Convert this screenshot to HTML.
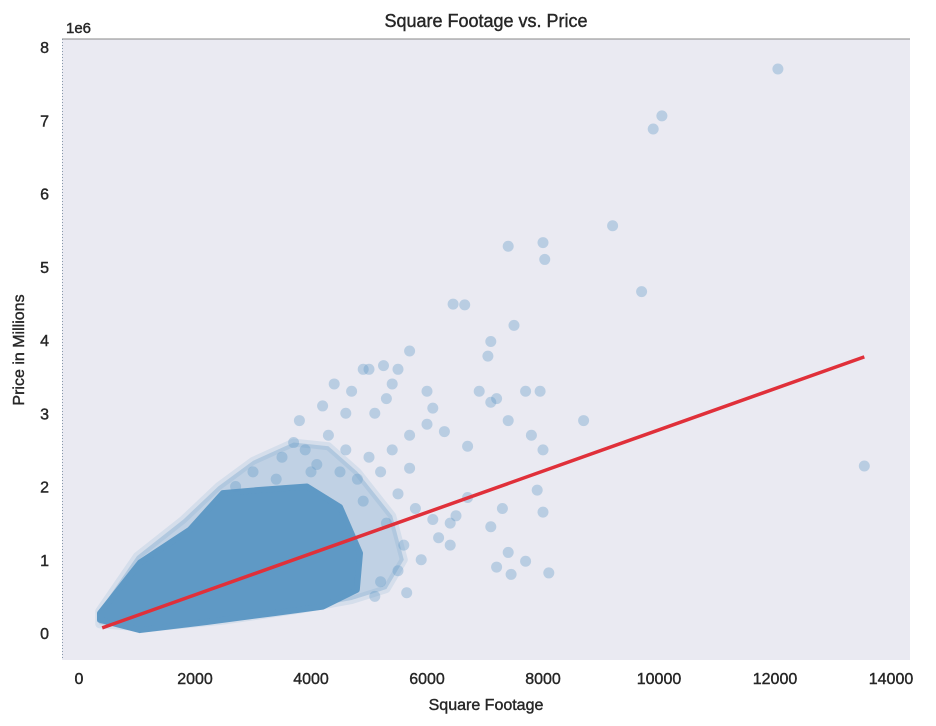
<!DOCTYPE html>
<html><head><meta charset="utf-8"><style>
body{margin:0;background:#fff;}
svg{display:block;font-family:"Liberation Sans",sans-serif;}
</style></head><body>
<svg width="936" height="726">
<text x="486" y="27" text-anchor="middle" font-size="18" fill="#262626" stroke="#262626" stroke-width="0.4">Square Footage vs. Price</text>
<rect x="62" y="39" width="848" height="621" fill="#eaeaf2"/>
<line x1="62" y1="39" x2="910" y2="39" stroke="#888" stroke-width="1"/>
<line x1="62.5" y1="39" x2="62.5" y2="660" stroke="#8898aa" stroke-dasharray="1,2"/>
<g id="marks"></g>
<g id="axes"></g>
<text x="66" y="33" font-size="15" fill="#262626" stroke="#262626" stroke-width="0.4">1e6</text>
<text x="486" y="710" text-anchor="middle" font-size="16" fill="#262626" stroke="#262626" stroke-width="0.4">Square Footage</text>
<text transform="translate(24,350) rotate(-90)" text-anchor="middle" font-size="16" fill="#262626" stroke="#262626" stroke-width="0.4">Price in Millions</text>
</svg>
<script>
const xTicks=[0,2000,4000,6000,8000,10000,12000,14000];
const yTicks=[0,1,2,3,4,5,6,7,8];
const coreSqft=[362,1050,1910,2480,3070,3930,4500,4845,4790,4200,3350,2200,1050,362];
const corePrice=[0.27,0.96,1.41,1.91,1.95,2.0,1.72,1.09,0.59,0.36,0.27,0.15,0.04,0.18];
const haloSqft=[350,1000,1800,2400,3000,3700,4300,4800,5400,5600,5300,4700,3800,2500,1200,350];
const haloPrice=[0.3,1.05,1.55,2.0,2.35,2.6,2.55,2.2,1.6,1.0,0.6,0.45,0.32,0.17,0.07,0.12];
const ptSqft=[12050,10050,9900,9200,8000,8030,7400,9700,6450,6650,7500,7100,7050,5700,13540,8700,7950,7700,7200,7100,6900,6000,6100,6000,6300,7400,6700,7800,8000,7900,8000,7300,7100,6700,6500,6200,6400,7400,7700,8100,7200,7450,6400,5600,5900,5500,5200,5650,5100,5400,5500,5250,5000,4900,5300,5100,4700,4400,4200,4600,5700,5700,5400,5000,5200,4800,4500,4100,3700,3900,4300,3500,3800,5500,5800,6100,5300,4900,4600,3400,3000,2700,4000];
const ptPrice=[7.7,7.06,6.88,5.56,5.33,5.1,5.28,4.66,4.49,4.48,4.2,3.98,3.78,3.85,2.28,2.9,3.3,3.3,3.2,3.15,3.3,3.3,3.07,2.85,2.75,2.9,2.55,2.7,2.5,1.95,1.65,1.7,1.45,1.85,1.6,1.3,1.2,1.1,0.98,0.82,0.9,0.8,1.5,1.2,1.0,0.85,0.7,0.55,0.5,3.4,3.6,3.65,3.6,3.6,3.2,3.0,3.3,3.4,3.1,3.0,2.7,2.25,2.5,2.4,2.2,2.1,2.2,2.3,2.6,2.5,2.7,2.4,2.9,1.9,1.7,1.55,1.5,1.8,2.5,2.1,2.2,2.0,2.2];
const fitSqft=[400,13540];
const fitPrice=[0.07,3.77];
const X=s=>79+s*812/14000;
const Y=v=>633-v*73.25;
const NS="http://www.w3.org/2000/svg";
const marks=document.getElementById('marks'),axes=document.getElementById('axes');
function mk(t,a,p){const e=document.createElementNS(NS,t);for(const k in a)e.setAttribute(k,a[k]);p.appendChild(e);return e;}
let hp=mk('polygon',{points:haloSqft.map((s,i)=>X(s)+','+Y(haloPrice[i])).join(' '),fill:'#5f99c5','fill-opacity':0.3,stroke:'#5f99c5','stroke-opacity':0.15,'stroke-width':8,'stroke-linejoin':'round'},marks);


let cp=mk('polygon',{points:coreSqft.map((s,i)=>X(s)+','+Y(corePrice[i])).join(' '),fill:'#5f99c5',stroke:'#5f99c5','stroke-width':6,'stroke-linejoin':'round'},marks);


ptSqft.forEach((s,i)=>{
 const c=mk('circle',{cx:X(s),cy:Y(ptPrice[i]),r:5.5,fill:'#5f99c5','fill-opacity':0.35},marks);
 
 
});
const fl=mk('line',{x1:X(fitSqft[0]),y1:Y(fitPrice[0]),x2:X(fitSqft[1]),y2:Y(fitPrice[1]),stroke:'#e0303a','stroke-width':3.5},marks);


xTicks.forEach(t=>{
 const e=mk('text',{x:X(t),y:684,'text-anchor':'middle','font-size':16,fill:'#262626',stroke:'#262626','stroke-width':0.4},axes);e.textContent=t;
 
 
});
yTicks.forEach(t=>{
 const e=mk('text',{x:49,y:Y(t)+6,'text-anchor':'end','font-size':16,fill:'#262626',stroke:'#262626','stroke-width':0.4},axes);e.textContent=t;
 
 
});
</script>
</body></html>
